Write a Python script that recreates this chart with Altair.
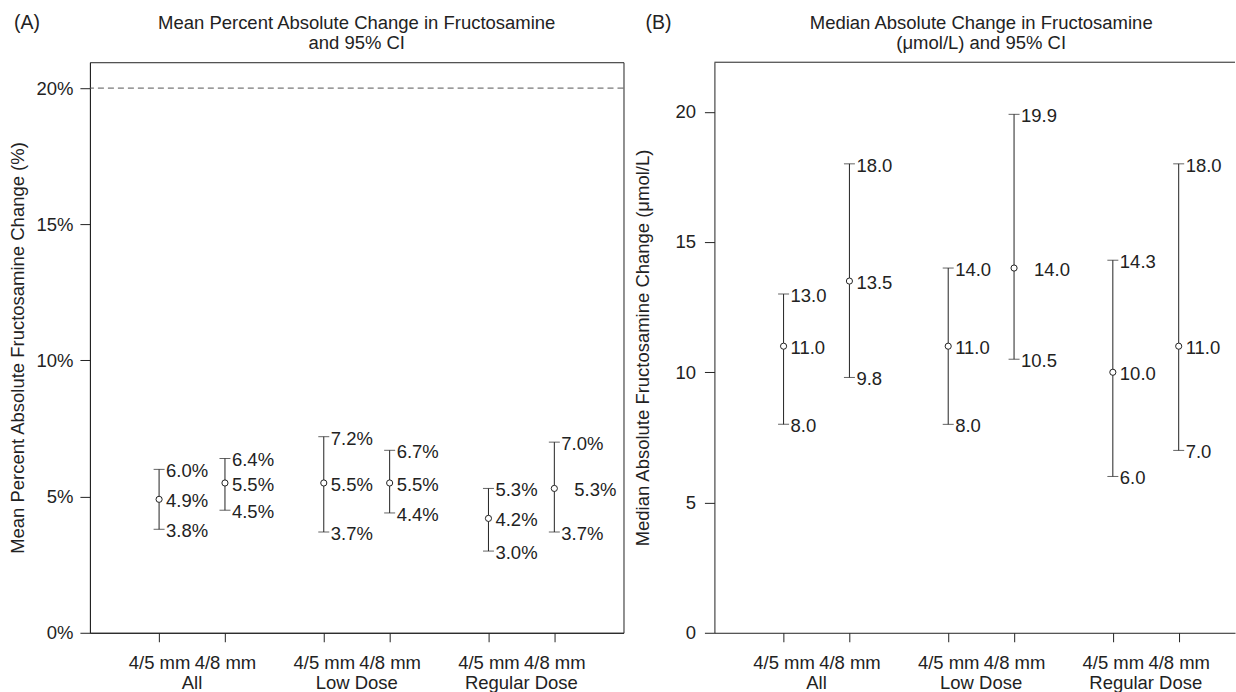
import altair as alt
import pandas as pd

# ---------------- data ----------------
groups = ["All", "All", "Low Dose", "Low Dose", "Regular Dose", "Regular Dose"]
sizes = ["4/5 mm", "4/8 mm", "4/5 mm", "4/8 mm", "4/5 mm", "4/8 mm"]
xpos = [1, 2, 3.5, 4.5, 6, 7]
group_names = ["All", "Low Dose", "Regular Dose"]
group_centers = [1.5, 4, 6.5]

# Panel A: mean percent absolute change and 95% CI
mean_est = [4.9, 5.5, 5.5, 5.5, 4.2, 5.3]
mean_lo = [3.8, 4.5, 3.7, 4.4, 3.0, 3.7]
mean_hi = [6.0, 6.4, 7.2, 6.7, 5.3, 7.0]
mean_shift = [False, False, False, False, False, True]

# Panel B: median absolute change (umol/L) and 95% CI
med_est = [11.0, 13.5, 11.0, 14.0, 10.0, 11.0]
med_lo = [8.0, 9.8, 8.0, 10.5, 6.0, 7.0]
med_hi = [13.0, 18.0, 14.0, 19.9, 14.3, 18.0]
med_shift = [False, False, False, True, False, False]

threshold_a = [20]

FONT = "Liberation Sans"
FS = 18.5
INK = "#222222"
H = 571
W_A = 534
W_B = 521
PANEL_FULL_W = 534  # nominal width used for centring panel B titles


def size_label_expr():
    parts = []
    for v, s in zip(xpos, sizes):
        parts.append(f"datum.value == {v} ? '{s}'")
    return " : ".join(parts) + " : ''"


def make_panel(est, lo, hi, shift, suffix, ydomain, yvals, ytitle, width, xdomain,
               title1, title2, tag, tag_x, ylabel_pad, dashed=None, full_box=True):
    df = pd.DataFrame({"x": xpos, "est": est, "lo": lo, "hi": hi,
                       "group": groups, "size": sizes})
    fmt = lambda v: f"{v:.1f}{suffix}"
    lab_rows = []
    for i in range(len(xpos)):
        lab_rows.append({"x": xpos[i], "v": hi[i], "t": fmt(hi[i]), "shift": False})
        lab_rows.append({"x": xpos[i], "v": est[i], "t": fmt(est[i]), "shift": shift[i]})
        lab_rows.append({"x": xpos[i], "v": lo[i], "t": fmt(lo[i]), "shift": False})
    labs = pd.DataFrame(lab_rows)

    xs = alt.Scale(domain=xdomain, nice=False, zero=False)
    ys = alt.Scale(domain=ydomain, nice=False, zero=False)

    xaxis = alt.Axis(values=xpos, labelExpr=size_label_expr(), title=None, grid=False,
                     tickSize=9, labelPadding=12, labelFont=FONT, labelFontSize=FS,
                     labelColor=INK, domainColor=INK, tickColor=INK, labelAngle=0)
    if suffix == "%":
        ylabexpr = "datum.value + '%'"
    else:
        ylabexpr = "datum.value"
    yaxis = alt.Axis(values=yvals, labelExpr=ylabexpr, grid=False, tickSize=10,
                     labelPadding=ylabel_pad, labelFont=FONT, labelFontSize=FS,
                     labelColor=INK, domainColor=INK, tickColor=INK,
                     title=ytitle, titleFont=FONT, titleFontSize=FS,
                     titleFontWeight="normal", titleColor=INK, titleX=-72,
                     titleY=H / 2, titleAngle=-90, titleAlign="center",
                     titleBaseline="middle")

    base = alt.Chart(df)
    rule = base.mark_rule(color=INK, strokeWidth=1).encode(
        x=alt.X("x:Q", scale=xs, axis=xaxis),
        y=alt.Y("lo:Q", scale=ys, axis=yaxis),
        y2="hi:Q",
    )
    cap_hi = base.mark_tick(orient="horizontal", size=11, thickness=1, color=INK).encode(
        x=alt.X("x:Q", scale=xs), y=alt.Y("hi:Q", scale=ys))
    cap_lo = base.mark_tick(orient="horizontal", size=11, thickness=1, color=INK).encode(
        x=alt.X("x:Q", scale=xs), y=alt.Y("lo:Q", scale=ys))
    pts = base.mark_point(shape="circle", filled=True, fill="white", size=38,
                          strokeWidth=1, stroke=INK, opacity=1).encode(
        x=alt.X("x:Q", scale=xs), y=alt.Y("est:Q", scale=ys))

    lab_base = alt.Chart(labs)
    txt = lab_base.transform_filter("!datum.shift").mark_text(
        align="left", baseline="middle", dx=7, dy=2, font=FONT, fontSize=FS, color=INK
    ).encode(x=alt.X("x:Q", scale=xs), y=alt.Y("v:Q", scale=ys), text="t:N")
    txt_shift = lab_base.transform_filter("datum.shift").mark_text(
        align="left", baseline="middle", dx=20, dy=2, font=FONT, fontSize=FS, color=INK
    ).encode(x=alt.X("x:Q", scale=xs), y=alt.Y("v:Q", scale=ys), text="t:N")

    gdf = pd.DataFrame({"x": group_centers, "g": group_names})
    glab = alt.Chart(gdf).mark_text(
        align="center", baseline="middle", font=FONT, fontSize=FS, color=INK
    ).encode(x=alt.X("x:Q", scale=xs), y=alt.value(H + 50), text="g:N")

    tdf = pd.DataFrame({"a": [title1], "b": [title2], "tag": [tag]})
    t1 = alt.Chart(tdf).mark_text(align="center", baseline="middle", font=FONT,
                                  fontSize=FS, color=INK).encode(
        x=alt.value(PANEL_FULL_W / 2), y=alt.value(-39), text="a:N")
    t2 = alt.Chart(tdf).mark_text(align="center", baseline="middle", font=FONT,
                                  fontSize=FS, color=INK).encode(
        x=alt.value(PANEL_FULL_W / 2), y=alt.value(-19), text="b:N")
    t3 = alt.Chart(tdf).mark_text(align="left", baseline="middle", font=FONT,
                                  fontSize=FS + 1, color=INK).encode(
        x=alt.value(tag_x), y=alt.value(-39), text="tag:N")

    layers = [rule, cap_hi, cap_lo, pts, txt, txt_shift, glab, t1, t2, t3]
    if dashed is not None:
        ddf = pd.DataFrame({"y": dashed})
        dline = alt.Chart(ddf).mark_rule(color="#555555", strokeDash=[6, 4],
                                         strokeWidth=1).encode(
            y=alt.Y("y:Q", scale=ys))
        layers.insert(0, dline)
    if not full_box:
        top = alt.Chart(tdf).mark_rule(color=INK, strokeWidth=1).encode(
            x=alt.value(0), x2=alt.value(width), y=alt.value(0))
        layers.append(top)

    ch = alt.layer(*layers).properties(width=width, height=H)
    if full_box:
        ch = ch.properties(view=alt.ViewBackground(stroke=INK, strokeWidth=1))
    else:
        ch = ch.properties(view=alt.ViewBackground(stroke=None))
    return ch


panel_a = make_panel(mean_est, mean_lo, mean_hi, mean_shift, "%", [0, 20.95],
                     [0, 5, 10, 15, 20], "Mean Percent Absolute Fructosamine Change (%)",
                     W_A, [-0.05, 8.05],
                     "Mean Percent Absolute Change in Fructosamine", "and 95% CI",
                     "(A)", -76, 7, dashed=threshold_a, full_box=True)

panel_b = make_panel(med_est, med_lo, med_hi, med_shift, "", [0, 21.9],
                     [0, 5, 10, 15, 20], "Median Absolute Fructosamine Change (μmol/L)",
                     W_B, [-0.05, 7.855],
                     "Median Absolute Change in Fructosamine", "(μmol/L) and 95% CI",
                     "(B)", -69, 9, dashed=None, full_box=False)

chart = alt.hconcat(panel_a, panel_b, spacing=91, bounds="flush").configure(
    padding={"left": 8, "top": 12, "right": 0, "bottom": 0},
    background="white",
).configure_view(stroke=None)

chart.save("out.html", embed_options={"renderer": "svg", "actions": False})
